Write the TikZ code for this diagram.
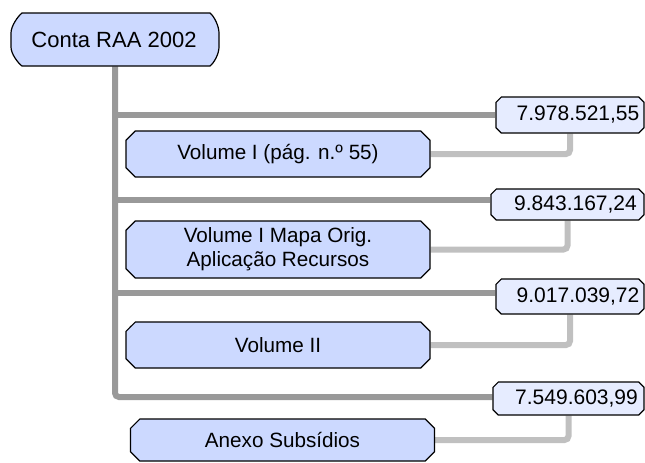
\documentclass[tikz,border=0pt]{standalone}
\usepackage{fontspec}
\setmainfont{Liberation Sans}
\usetikzlibrary{shapes.misc,backgrounds}
\definecolor{boxblue}{HTML}{CCD9FF}
\definecolor{valblue}{HTML}{E6ECFF}
\definecolor{trunkgray}{HTML}{999999}
\definecolor{leafgray}{HTML}{C0C0C0}
\begin{document}
\begin{tikzpicture}[x=0.75pt,y=-0.75pt,
  mainbox/.style={chamfered rectangle, chamfered rectangle xsep=3.5pt,
    chamfered rectangle ysep=3.5pt, draw=black, line width=0.9pt, fill=boxblue,
    inner sep=0pt, minimum width=228pt, font=\fontsize{15.5}{18}\selectfont, align=center},
  valbox/.style={chamfered rectangle, chamfered rectangle xsep=2pt,
    chamfered rectangle ysep=2pt, draw=black, line width=0.9pt, fill=valblue,
    inner xsep=0pt, inner ysep=0pt, text width=104pt, align=right,
    font=\fontsize{15.75}{18}\selectfont},
  trunk/.style={draw=trunkgray, line width=4.5pt, rounded corners=3pt},
  leaf/.style={draw=leafgray, line width=4.5pt, rounded corners=3pt}]
\useasboundingbox (0,0) rectangle (645,462);
% root node outline
\draw[fill=boxblue, line width=0.9pt]
  (22,13) -- (210,13) .. controls (214,16) and (219,26) .. (219,33) -- (219,47)
  .. controls (219,54) and (214,63) .. (210,66) -- (22,66)
  .. controls (18,63) and (11,54) .. (11,47) -- (11,33)
  .. controls (11,26) and (18,16) .. (22,13) -- cycle;
\node[font=\fontsize{16.5}{20}\selectfont, inner sep=0pt, minimum width=157.5pt, minimum height=39.75pt]
  (c) at (114,39.5) {Conta RAA 2002};
% main boxes
\node[mainbox, minimum height=34.5pt] (m1) at (278,154) {Volume I (pág. n.º 55)};
\node[mainbox, minimum height=42.75pt] (m2) at (278,249.5) {Volume I Mapa Orig.\\Aplicação Recursos};
\node[mainbox, minimum height=34.5pt] (m3) at (278,345) {Volume II};
\node[mainbox, minimum height=31.5pt] (m4) at (282.5,440) {Anexo Subsídios};
% value boxes
\node[valbox, minimum width=111pt, minimum height=27pt] (v1) at (570,115) {7.978.521,55};
\node[valbox, minimum width=114.75pt, minimum height=23.25pt] (v2) at (567.5,204.5) {9.843.167,24};
\node[valbox, minimum width=111pt, minimum height=26.25pt] (v3) at (570,296.5) {9.017.039,72};
\node[valbox, minimum width=113.25pt, minimum height=24.75pt] (v4) at (568.5,398.5) {7.549.603,99};
% connectors
\coordinate (b1) at (115,115);
\coordinate (b2) at (115,200);
\coordinate (b3) at (115,293);
\coordinate (b4) at (115,397);
\begin{pgfonlayer}{background}
  \draw[trunk] (c.south -| b4) -- (b4) -- (b4 -| v4.west);
  \draw[trunk] (b1) -- (b1 -| v1.west);
  \draw[trunk] (b2) -- (b2 -| v2.west);
  \draw[trunk] (b3) -- (b3 -| v3.west);
  \draw[leaf] (m1.east) -| (v1.south);
  \draw[leaf] (m2.east) -| (v2.south);
  \draw[leaf] (m3.east) -| (v3.south);
  \draw[leaf] (m4.east) -| (v4.south);
\end{pgfonlayer}
\end{tikzpicture}
\end{document}
